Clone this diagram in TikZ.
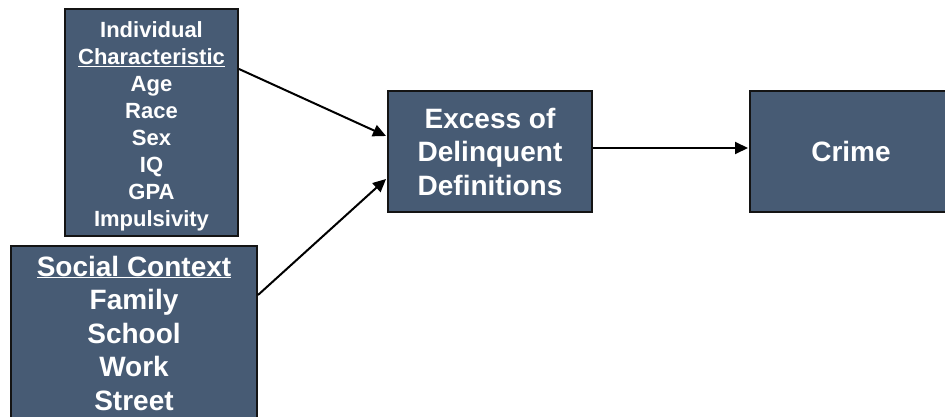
\documentclass[tikz,border=0pt]{standalone}
\usepackage{fontspec}
\setmainfont{Liberation Sans}
\usepackage{xcolor}
\usetikzlibrary{arrows.meta, calc}
\definecolor{boxfill}{RGB}{71,91,116}
\definecolor{boxline}{RGB}{20,20,20}
\tikzset{
  block/.style = {draw=boxline, fill=boxfill, line width=2pt, text=white,
    align=center, inner sep=0pt, font=\bfseries},
  small/.style = {font=\bfseries\fontsize{22}{27}\selectfont},
  big/.style = {font=\bfseries\fontsize{28}{33.5}\selectfont},
  link/.style = {draw=black, line width=2pt, -{Triangle[length=13pt, width=12pt]}}
}

\begin{document}
\begin{tikzpicture}[x=1pt, y=-1pt]

	\useasboundingbox[fill=white] (0,0) rectangle (945,417);

	% block centres
	\coordinate (I) at (151.5,122.5);
	\coordinate (S) at (134,333);
	\coordinate (X) at (490,151.5);
	\coordinate (K) at (851,151.5);

	\node[block, small, minimum width=173pt, minimum height=227pt] (ind) at (I) {};
	\node[small, text=white, align=center, inner sep=0pt] (indtext) at ($(I)+(0,4)$)
		{Individual\\\underline{Characteristic}\\Age\\Race\\Sex\\IQ\\GPA\\Impulsivity};
	\node[block, big, minimum width=246pt, minimum height=174pt] (soc) at (S)
		{\underline{Social Context}\\Family\\School\\Work\\Street};
	\node[block, big, minimum width=204pt, minimum height=121pt] (exc) at (X)
		{Excess of\\Delinquent\\Definitions};
	\node[block, big, minimum width=202pt, minimum height=121pt] (crm) at (K) {Crime};

	% arrow ends on the box sides
	\coordinate (a1) at ($(ind.north east)+(0,61)$);
	\coordinate (b1) at ($(exc.north west)+(-1,46)$);
	\coordinate (a2) at ($(soc.north east)+(0,50)$);
	\coordinate (b2) at ($(exc.north west)+(-1,89)$);
	\coordinate (a3) at ($(exc.east)+(0,-3.5)$);
	\coordinate (b3) at ($(crm.west)+(-1,-3.5)$);

	\draw[link] (a1) -- (b1);
	\draw[link] (a2) -- (b2);
	\draw[link] (a3) -- (b3);

\end{tikzpicture}
\end{document}
